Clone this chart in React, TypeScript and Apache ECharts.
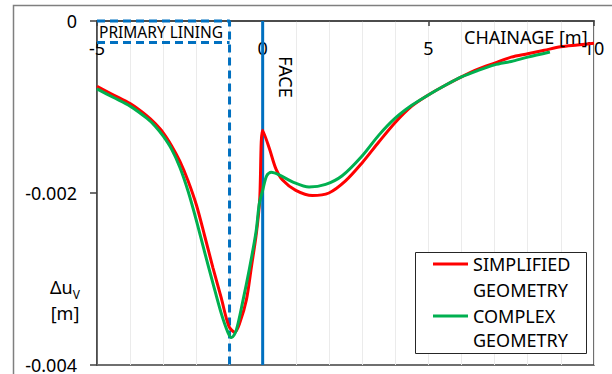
import React, { useEffect, useRef } from "react";
import * as echarts from "echarts";

const FONT = "'Noto Sans', 'Open Sans', sans-serif";

// SIMPLIFIED GEOMETRY (chainage [m], Δu_V [m])
const SIMPLE_X = [-5, -4.5, -4, -3.5, -3.25, -3, -2.75, -2.5, -2.25, -2, -1.75, -1.5, -1.25, -1.02, -0.84, -0.69, -0.49, -0.34, -0.19, -0.09, 0, 0.2, 0.4, 0.6, 1.0, 1.5, 2.0, 2.5, 3.0, 3.5, 4.0, 4.5, 5, 5.5, 6, 6.5, 7, 7.5, 8, 8.5, 9, 9.5, 10];
const SIMPLE_Y = [-0.00076, -0.00086, -0.00096, -0.0011, -0.00119, -0.0013, -0.00145, -0.00163, -0.00186, -0.00214, -0.0025, -0.00287, -0.00322, -0.00355, -0.00362, -0.00351, -0.00324, -0.00286, -0.00247, -0.00208, -0.00127, -0.00148, -0.00172, -0.00185, -0.00197, -0.00203, -0.002, -0.00186, -0.00165, -0.00141, -0.00118, -0.00099, -0.00086, -0.00075, -0.00065, -0.00056, -0.00049, -0.00042, -0.00038, -0.00034, -0.0003, -0.00028, -0.00026];

// COMPLEX GEOMETRY
const COMPLEX_X = [-5, -4.5, -4, -3.5, -3.25, -3, -2.75, -2.5, -2.25, -2, -1.75, -1.5, -1.25, -1.05, -0.94, -0.8, -0.6, -0.4, -0.2, -0.1, 0, 0.12, 0.26, 0.5, 0.9, 1.4, 1.9, 2.4, 3.0, 3.5, 4.0, 4.5, 5, 5.5, 6, 6.5, 7, 7.5, 8, 8.67];
const COMPLEX_Y = [-0.00079, -0.00089, -0.00099, -0.00113, -0.00122, -0.00134, -0.00149, -0.0017, -0.00198, -0.00232, -0.00269, -0.00305, -0.0034, -0.00362, -0.00368, -0.0036, -0.00326, -0.00288, -0.00245, -0.00212, -0.00197, -0.0018, -0.00176, -0.00179, -0.00187, -0.00193, -0.0019, -0.0018, -0.00157, -0.00133, -0.00113, -0.00098, -0.00086, -0.00075, -0.00065, -0.000575, -0.00051, -0.00047, -0.00042, -0.00036];

// Face line and primary lining outline
const FACE_X = [0, 0];
const FACE_Y = [0, -0.004];
const LINING_OUTLINE_X = [-5, -1, -1];
const LINING_OUTLINE_Y = [0, 0, -0.004];
const LINING_INNER_X = [-5, -1];
const LINING_INNER_Y = [-0.00025, -0.00025];

// Axis settings
const X_MIN = -5;
const X_MAX = 10;
const X_STEP = 5;
const Y_MIN = -0.004;
const Y_MAX = 0;
const Y_STEP = 0.002;

const SERIES_NAMES = ["SIMPLIFIED GEOMETRY", "COMPLEX GEOMETRY"];

const pairs = (xs: number[], ys: number[]) => xs.map((x, i) => [x, ys[i]]);

export default function App() {
  const ref = useRef<HTMLDivElement>(null);

  useEffect(() => {
    document.body.style.margin = "0";
    if (!ref.current) return;
    const chart = echarts.init(ref.current, null, { renderer: "svg" });
    const axisColor = "#404040";
    const option: any = {
      animation: false,
      backgroundColor: "#ffffff",
      textStyle: { fontFamily: FONT },
      grid: {
        left: 97,
        top: 21,
        width: 497,
        height: 344,
        show: true,
        borderColor: axisColor,
        borderWidth: 1.5,
      },
      xAxis: {
        type: "value",
        min: X_MIN,
        max: X_MAX,
        interval: X_STEP,
        position: "top",
        axisLine: { show: true, onZero: false, lineStyle: { color: axisColor, width: 1.5 } },
        axisTick: { show: true, inside: true, length: 5, lineStyle: { color: axisColor, width: 1.5 } },
        axisLabel: { inside: true, margin: 18, fontSize: 18, color: "#000", fontFamily: FONT },
        splitLine: { show: true, lineStyle: { color: "#ebebeb", width: 1 } },
        minorTick: { show: false, splitNumber: 5 },
        minorSplitLine: { show: true, lineStyle: { color: "#ebebeb", width: 1 } },
      },
      yAxis: {
        type: "value",
        min: Y_MIN,
        max: Y_MAX,
        interval: Y_STEP,
        axisLine: { show: true, onZero: false, lineStyle: { color: axisColor, width: 1.5 } },
        axisTick: { show: true, inside: false, length: 7, lineStyle: { color: axisColor, width: 1.5 } },
        axisLabel: {
          margin: 20,
          fontSize: 18,
          color: "#000",
          fontFamily: FONT,
          formatter: (v: number) => (Math.abs(v) < 1e-12 ? "0" : v.toFixed(3)),
        },
        splitLine: { show: false },
      },
      series: [
        {
          name: "PRIMARY LINING",
          type: "line",
          data: pairs(LINING_OUTLINE_X, LINING_OUTLINE_Y),
          showSymbol: false,
          clip: false,
          lineStyle: { color: "#0070c0", width: 3, type: [8, 5] },
          z: 3,
        },
        {
          name: "PRIMARY LINING INNER",
          type: "line",
          data: pairs(LINING_INNER_X, LINING_INNER_Y),
          showSymbol: false,
          clip: false,
          lineStyle: { color: "#0070c0", width: 3, type: [8, 5] },
          z: 3,
        },
        {
          name: "FACE",
          type: "line",
          data: pairs(FACE_X, FACE_Y),
          showSymbol: false,
          clip: false,
          lineStyle: { color: "#0070c0", width: 3 },
          z: 3,
        },
        {
          name: SERIES_NAMES[0],
          type: "line",
          data: pairs(SIMPLE_X, SIMPLE_Y),
          showSymbol: false,
          smooth: 0.3,
          lineStyle: { color: "#ff0000", width: 3 },
          z: 4,
        },
        {
          name: SERIES_NAMES[1],
          type: "line",
          data: pairs(COMPLEX_X, COMPLEX_Y),
          showSymbol: false,
          smooth: 0.3,
          lineStyle: { color: "#00b050", width: 3 },
          z: 5,
        },
      ],
      graphic: [
        {
          type: "rect",
          shape: { x: 13.5, y: 5.5, width: 700, height: 500 },
          style: { fill: "none", stroke: "#7f7f7f", lineWidth: 1.5 },
          silent: true,
          z: 1,
        },
        {
          type: "text",
          x: 99,
          y: 32,
          style: {
            text: "PRIMARY LINING",
            fontSize: 15.5,
            fontFamily: FONT,
            fill: "#000",
            textAlign: "left",
            textVerticalAlign: "middle",
          },
          z: 100,
        },
        {
          type: "text",
          x: 464,
          y: 37,
          style: {
            text: "CHAINAGE [m]",
            fontSize: 18,
            fontFamily: FONT,
            fill: "#000",
            textAlign: "left",
            textVerticalAlign: "middle",
          },
          z: 100,
        },
        {
          type: "text",
          x: 286,
          y: 77,
          rotation: -Math.PI / 2,
          style: {
            text: "FACE",
            fontSize: 18,
            fontFamily: FONT,
            fill: "#000",
            textAlign: "center",
            textVerticalAlign: "middle",
          },
          z: 100,
        },
        {
          type: "text",
          x: 65,
          y: 300,
          style: {
            text: "{a|Δu}{s|V}\n{a|[m]}",
            fontFamily: FONT,
            fill: "#000",
            textAlign: "center",
            textVerticalAlign: "middle",
            rich: {
              a: { fontSize: 18, fontFamily: FONT, fill: "#000", lineHeight: 26 },
              s: { fontSize: 12, fontFamily: FONT, fill: "#000", verticalAlign: "bottom", lineHeight: 26, padding: [6, 0, 0, 0] },
            },
          },
          z: 100,
        },
        {
          type: "group",
          z: 100,
          children: [
            {
              type: "rect",
              shape: { x: 415.5, y: 252.5, width: 171, height: 101 },
              style: { fill: "#ffffff", stroke: "#262626", lineWidth: 1 },
              z: 100,
            },
            {
              type: "line",
              shape: { x1: 433, y1: 264, x2: 468, y2: 264 },
              style: { stroke: "#ff0000", lineWidth: 3 },
              z: 101,
            },
            {
              type: "line",
              shape: { x1: 433, y1: 316, x2: 468, y2: 316 },
              style: { stroke: "#00b050", lineWidth: 3 },
              z: 101,
            },
            {
              type: "text",
              x: 473,
              y: 264,
              style: { text: "SIMPLIFIED", fontSize: 18, fontFamily: FONT, fill: "#000", textVerticalAlign: "middle" },
              z: 101,
            },
            {
              type: "text",
              x: 473,
              y: 290,
              style: { text: "GEOMETRY", fontSize: 18, fontFamily: FONT, fill: "#000", textVerticalAlign: "middle" },
              z: 101,
            },
            {
              type: "text",
              x: 473,
              y: 316,
              style: { text: "COMPLEX", fontSize: 18, fontFamily: FONT, fill: "#000", textVerticalAlign: "middle" },
              z: 101,
            },
            {
              type: "text",
              x: 473,
              y: 340,
              style: { text: "GEOMETRY", fontSize: 18, fontFamily: FONT, fill: "#000", textVerticalAlign: "middle" },
              z: 101,
            },
          ],
        },
      ],
    };
    chart.setOption(option);
    return () => chart.dispose();
  }, []);

  return (
    <div
      ref={ref}
      style={{ position: "absolute", left: 0, top: 0, width: 612, height: 374 }}
    />
  );
}
